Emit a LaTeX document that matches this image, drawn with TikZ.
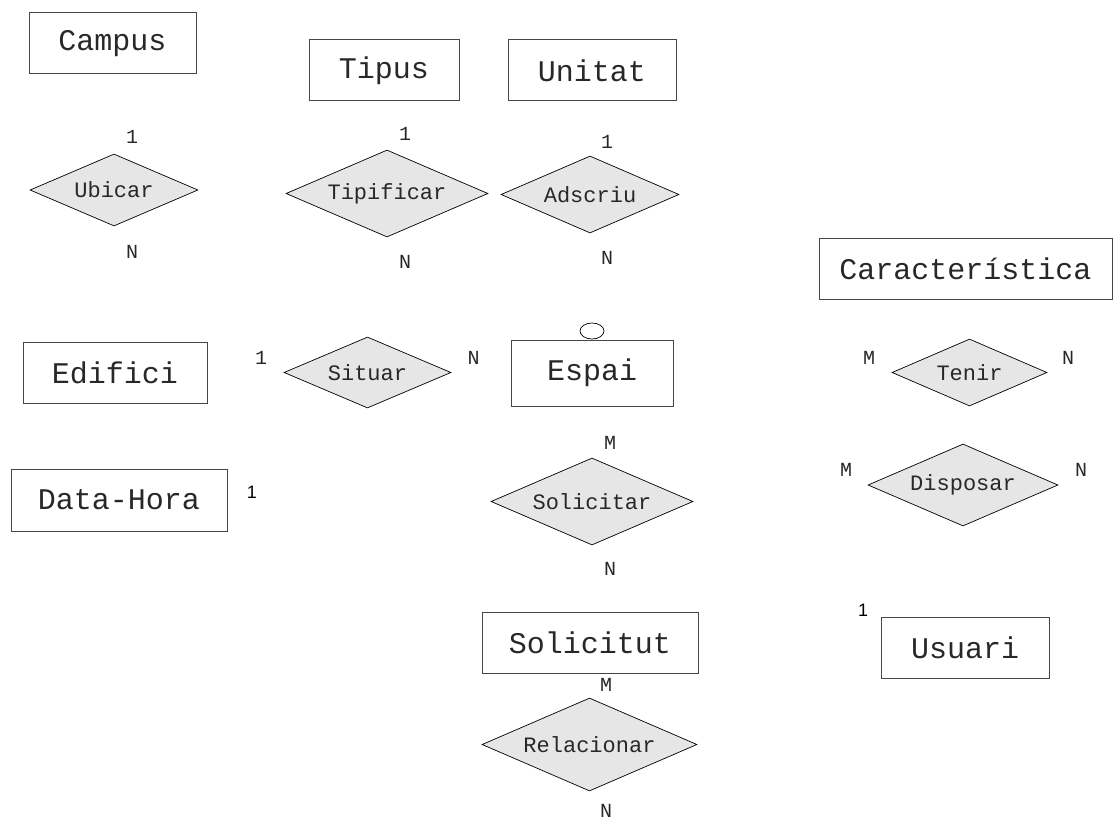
\documentclass[tikz,border=0pt]{standalone}
\usepackage{fontspec}
\usetikzlibrary{shapes.geometric}
\newfontfamily\monof{Liberation Mono}
\newfontfamily\sansf{Liberation Sans}
\definecolor{relfill}{RGB}{230,230,230}
\definecolor{boxline}{RGB}{70,70,70}
\definecolor{txt}{RGB}{40,40,40}
\tikzset{
  entity/.style={draw=boxline, line width=1pt, rectangle, inner sep=0pt,
    text=txt, font=\monof\fontsize{30}{34}\selectfont},
  relation/.style={draw=black, line width=0.7pt, diamond, aspect=2.3, inner sep=0pt,
    fill=relfill, text=txt, font=\monof\fontsize{22}{26}\selectfont},
  card/.style={inner sep=0pt, text=txt, font=\monof\fontsize{20}{24}\selectfont},
  cards/.style={inner sep=0pt, text=black, font=\sansf\fontsize{18}{21}\selectfont},
  weakmark/.style={draw=black, line width=0.7pt, ellipse, inner sep=0pt,
    minimum width=24pt, minimum height=16pt}
}
\begin{document}
\begin{tikzpicture}[x=1pt,y=-1pt]
\useasboundingbox (0,0) rectangle (1113,821);
% entities
\node[entity, minimum width=167pt, minimum height=61pt] (campus) at (112.5,43.5) {Campus};
\node[entity, minimum width=150pt, minimum height=61pt] (tipus) at (384,70.5) {Tipus};
\node[entity, minimum width=168pt, minimum height=61pt] (unitat) at (592,70.5) {Unitat};
\node[entity, minimum width=293pt, minimum height=61pt] (caract) at (965.5,268.5) {Característica};
\node[entity, minimum width=184pt, minimum height=61pt] (edifici) at (115,372.5) {Edifici};
\node[entity, minimum width=162pt, minimum height=66pt] (espai) at (592,373) {Espai};
\node[entity, minimum width=216pt, minimum height=62pt] (datahora) at (119,500) {Data-Hora};
\node[entity, minimum width=216pt, minimum height=61pt] (solicitut) at (590,642.5) {Solicitut};
\node[entity, minimum width=168pt, minimum height=61pt] (usuari) at (965,647.5) {Usuari};
\node[weakmark] (espaimark) at (592,331) {};
% relations
\node[relation, minimum width=168pt, minimum height=72pt] (ubicar) at (114,190) {Ubicar};
\node[relation, minimum width=202pt, minimum height=87pt] (tipificar) at (387,193.5) {Tipificar};
\node[relation, minimum width=178pt, minimum height=77pt] (adscriu) at (590,194.5) {Adscriu};
\node[relation, minimum width=167pt, minimum height=71pt] (situar) at (367.5,372.5) {Situar};
\node[relation, minimum width=202pt, minimum height=87pt] (solicitar) at (592,501.5) {Solicitar};
\node[relation, minimum width=155pt, minimum height=67pt] (tenir) at (969.5,372.5) {Tenir};
\node[relation, minimum width=190pt, minimum height=82pt] (disposar) at (963,485) {Disposar};
\node[relation, minimum width=215pt, minimum height=93pt] (relacionar) at (589.5,744.5) {Relacionar};
% cardinalities
\node[card] (c1) at (132,137) {1};
\node[card] (c2) at (132,252) {N};
\node[card] (c3) at (405,134) {1};
\node[card] (c4) at (405,262) {N};
\node[card] (c5) at (607,142) {1};
\node[card] (c6) at (607,258) {N};
\node[card] (c7) at (261,358) {1};
\node[card] (c8) at (473.5,357.5) {N};
\node[cards] (c9) at (252,492) {1};
\node[card] (c10) at (610,443) {M};
\node[card] (c11) at (610,569) {N};
\node[card] (c12) at (869,358) {M};
\node[card] (c13) at (1068,358) {N};
\node[card] (c14) at (846,470) {M};
\node[card] (c15) at (1081,470) {N};
\node[card] (c16) at (606,685) {M};
\node[card] (c17) at (606,811) {N};
\node[cards] (c18) at (863,610) {1};
\end{tikzpicture}
\end{document}
